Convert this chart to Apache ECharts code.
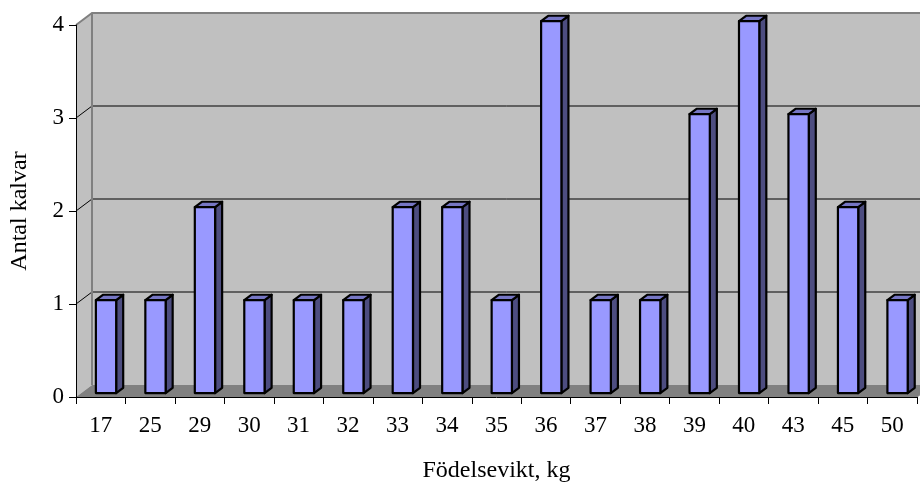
<!DOCTYPE html>
<html>
<head>
<meta charset="utf-8">
<script src="https://cdn.jsdelivr.net/npm/echarts@6/dist/echarts.min.js"></script>
<style>
html,body{margin:0;padding:0;background:#fff;}
#chart{width:920px;height:482px;}
</style>
</head>
<body>
<div id="chart"></div>
<script>
var categories = ['17','25','29','30','31','32','33','34','35','36','37','38','39','40','43','45','50'];
var counts = [1,1,2,1,1,1,2,2,1,4,1,1,3,4,3,2,1];
var yTicks = [0,1,2,3,4];
var xTitle = 'Födelsevikt, kg';
var yTitle = 'Antal kalvar';

var DEPTH_X = 16, DEPTH_Y = -12;
var FONT = 'Liberation Serif, Times New Roman, serif';

var chart = echarts.init(document.getElementById('chart'), null, {renderer: 'canvas'});

function wallsRender(params, api) {
  var band = api.size([1, 0])[0];
  var n = categories.length;
  var xl = api.coord([0, 0])[0] - band / 2;
  var xr = api.coord([n - 1, 0])[0] + band / 2;
  var y0 = api.coord([0, 0])[1];
  var yMax = api.coord([0, yTicks[yTicks.length - 1]])[1];
  var dx = DEPTH_X, dy = DEPTH_Y;
  var children = [];
  children.push({type: 'polygon', shape: {points: [[xl+dx, y0+dy],[xl+dx, yMax+dy],[xr+dx+40, yMax+dy],[xr+dx+40, y0+dy]]},
    style: {fill: '#c0c0c0', stroke: null}});
  children.push({type: 'polygon', shape: {points: [[xl, y0],[xl, yMax],[xl+dx, yMax+dy],[xl+dx, y0+dy]]},
    style: {fill: '#c0c0c0', stroke: null}});
  children.push({type: 'polygon', shape: {points: [[xl, y0],[xl+dx, y0+dy],[xr+dx, y0+dy],[xr, y0]]},
    style: {fill: '#808080', stroke: null}});
  for (var k = 1; k < yTicks.length - 1; k++) {
    var yy = api.coord([0, yTicks[k]])[1];
    children.push({type: 'polyline', shape: {points: [[xl, yy],[xl+dx, yy+dy],[xr+dx+40, yy+dy]]},
      style: {stroke: '#000', lineWidth: 1, fill: null}});
  }
  children.push({type: 'polyline', shape: {points: [[xl, yMax],[xl+dx, yMax+dy],[xr+dx+40, yMax+dy]]},
    style: {stroke: '#808080', lineWidth: 2, fill: null}});
  children.push({type: 'line', shape: {x1: xl+dx, y1: yMax+dy, x2: xl+dx, y2: y0+dy},
    style: {stroke: '#808080', lineWidth: 2}});
  children.push({type: 'line', shape: {x1: xr, y1: y0, x2: xr+dx, y2: y0+dy},
    style: {stroke: '#808080', lineWidth: 1}});
  return {type: 'group', children: children};
}

function barRender(params, api) {
  var i = api.value(0), v = api.value(1);
  var band = api.size([1, 0])[0];
  var base = api.coord([i, 0]);
  var top = api.coord([i, v]);
  var w = band * 0.41;
  var f = 0.33, d = 0.44;
  var ox = DEPTH_X * f, oy = DEPTH_Y * f;
  var sx = DEPTH_X * d, sy = DEPTH_Y * d;
  var x1 = base[0] - w / 2 + ox, x2 = base[0] + w / 2 + ox;
  var yb = base[1] + oy, yt = top[1] + oy;
  var st = {stroke: '#000', lineWidth: 2.2, lineJoin: 'round'};
  return {type: 'group', children: [
    {type: 'polygon', shape: {points: [[x2, yb],[x2, yt],[x2+sx, yt+sy],[x2+sx, yb+sy]]},
      style: Object.assign({fill: '#4d4d80'}, st)},
    {type: 'polygon', shape: {points: [[x1, yt],[x1+sx, yt+sy],[x2+sx, yt+sy],[x2, yt]]},
      style: Object.assign({fill: '#7676c4'}, st)},
    {type: 'rect', shape: {x: x1, y: yt, width: x2 - x1, height: yb - yt},
      style: Object.assign({fill: '#9999ff'}, st)}
  ]};
}

var barData = counts.map(function (c, i) { return [i, c]; });

chart.setOption({
  animation: false,
  backgroundColor: '#ffffff',
  grid: {left: 76, right: 3, top: 25, bottom: 85, containLabel: false, outerBoundsMode: 'none'},
  xAxis: {
    type: 'category', data: categories, boundaryGap: true, z: 10,
    axisLine: {show: true, lineStyle: {color: '#000', width: 1}},
    axisTick: {show: true, length: 7, alignWithLabel: false, lineStyle: {color: '#000'}},
    axisLabel: {color: '#000', fontSize: 23, fontFamily: FONT, margin: 17, interval: 0},
    splitLine: {show: false},
    name: xTitle, nameLocation: 'middle', nameGap: 62,
    nameTextStyle: {color: '#000', fontSize: 24, fontFamily: FONT}
  },
  yAxis: {
    type: 'value', min: 0, max: 4, interval: 1, z: 10,
    axisLine: {show: true, lineStyle: {color: '#000', width: 1}},
    axisTick: {show: true, length: 7, lineStyle: {color: '#000'}},
    axisLabel: {color: '#000', fontSize: 23, fontFamily: FONT, margin: 12,
      formatter: function (v) { return yTicks.indexOf(v) >= 0 ? String(v) : ''; }},
    splitLine: {show: false},
    name: yTitle, nameLocation: 'middle', nameGap: 44, nameRotate: 90,
    nameTextStyle: {color: '#000', fontSize: 24, fontFamily: FONT}
  },
  series: [
    {type: 'custom', z: 1, renderItem: wallsRender, data: [[0, 0]], silent: true, clip: false},
    {type: 'custom', z: 3, renderItem: barRender, data: barData, encode: {x: 0, y: 1}, clip: false}
  ]
});
</script>
</body>
</html>
